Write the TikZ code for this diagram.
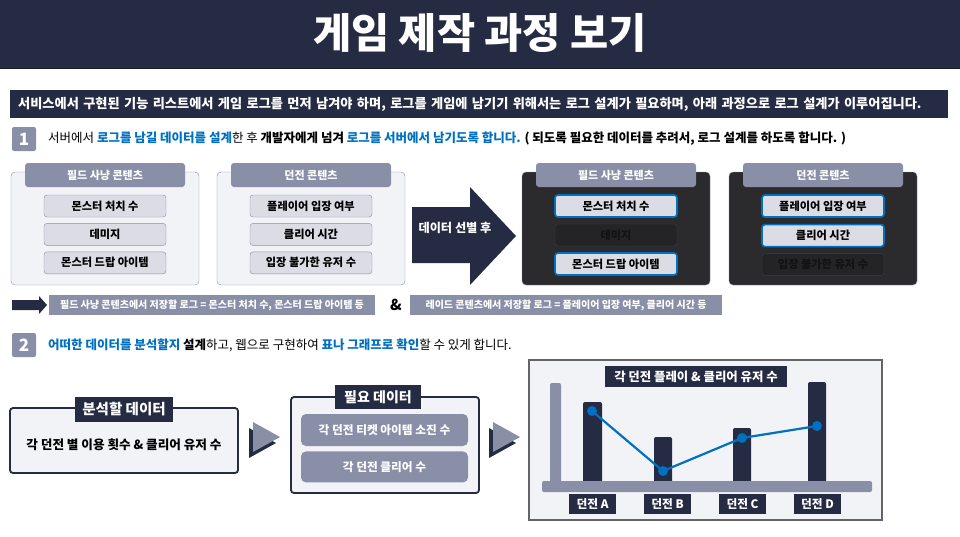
\documentclass[tikz,border=0pt]{standalone}
\usepackage{fontspec}
\setmainfont{Noto Sans CJK KR}
\usetikzlibrary{positioning}
\definecolor{cNavy}{RGB}{37,43,66}
\definecolor{cNavyEdge}{RGB}{24,28,44}
\definecolor{cSlate}{RGB}{138,143,168}
\definecolor{cPale}{RGB}{242,243,247}
\definecolor{cItem}{RGB}{220,221,228}
\definecolor{cDark}{RGB}{43,43,46}
\definecolor{cDrop}{RGB}{36,36,38}
\definecolor{cDropLine}{RGB}{62,62,66}
\definecolor{cDropTxt}{RGB}{18,18,20}
\definecolor{cBlue}{RGB}{0,112,192}
\definecolor{cFrame}{RGB}{100,100,104}
\newcommand\fsz[1]{\fontsize{#1}{#1}\selectfont}

\begin{document}
\begin{tikzpicture}[x=1pt,y=-1pt,node distance=6pt,
   panel/.style={draw=cSlate,fill=cPale,rounded corners=4pt,minimum width=188pt,minimum height=113pt},
   tab/.style={fill=cSlate,text=white,rounded corners=3pt,minimum width=160pt,minimum height=24pt,font=\bfseries\fsz{11}},
   item/.style={draw=cSlate,fill=cItem,rounded corners=3pt,minimum width=122pt,minimum height=22pt,inner sep=0pt,font=\bfseries\fsz{11.2}},
   pick/.style={item,draw=cBlue,line width=1.6pt},
   drop/.style={item,draw=cDropLine,fill=cDrop,text=cDropTxt},
   badge/.style={fill=cSlate,text=white,rounded corners=2pt,minimum size=24pt,inner sep=0pt,font=\bfseries\fsz{17}},
   note/.style={fill=cSlate,text=white,minimum height=20pt,font=\bfseries\fsz{10}},
   navtab/.style={fill=cNavy,text=white,inner sep=0pt,font=\bfseries\fsz{14.5}},
   need/.style={fill=cSlate,text=white,rounded corners=5pt,minimum width=167pt,inner sep=0pt,font=\bfseries\fsz{11.7}},
   lbl/.style={fill=cNavy,text=white,minimum width=47pt,minimum height=20pt,inner sep=0pt,font=\bfseries\fsz{11.7}},
   dot/.style={circle,fill=cBlue,minimum size=10pt,inner sep=0pt}]
  \useasboundingbox (0,0) rectangle (960,536);
  % title
  \fill[cNavy] (0,0) rectangle (960,68);
  \draw[cNavyEdge,line width=1pt] (0,68) -- (960,68);
  \node[text=white,font=\bfseries\fsz{41.5}] (title) at (480,33) {게임 제작 과정 보기};
  \node[fill=cNavy,text=white,anchor=west,text width=922pt,inner xsep=8pt,minimum height=28pt,font=\bfseries\fsz{13.2}] (intro) at (10,104)
    {서비스에서 구현된 기능 리스트에서 게임 로그를 먼저 남겨야 하며, 로그를 게임에 남기기 위해서는 로그 설계가 필요하며, 아래 과정으로 로그 설계가 이루어집니다.};

  % step 1
  \node[badge] (b1) at (24,139) {1};
  \node[anchor=west,inner sep=0pt,font=\fsz{12.5}] (s1) at (48,139)
    {서버에서 \textcolor{cBlue}{\bfseries 로그를 남길 데이터를 설계}한 후 \textbf{개발자에게 넘겨} \textcolor{cBlue}{\bfseries 로그를 서버에서 남기도록 합니다.} \textbf{( 되도록 필요한 데이터를 추려서, 로그 설계를 하도록 합니다. )}};

  \node[panel] (p1) at (105,228.5) {};
  \node[tab] (t1) at (105,175) {필드 사냥 콘텐츠};
  \node[item] (f1) at (105,206) {몬스터 처치 수};
  \node[item,below=of f1] (f2) {데미지};
  \node[item,below=of f2] (f3) {몬스터 드랍 아이템};

  \node[panel] (p2) at (311,228.5) {};
  \node[tab] (t2) at (311,175) {던전 콘텐츠};
  \node[item] (d1) at (311,206) {플레이어 입장 여부};
  \node[item,below=of d1] (d2) {클리어 시간};
  \node[item,below=of d2] (d3) {입장 불가한 유저 수};

  \fill[cNavy] (412,207) -- (470,207) -- (470,187) -- (516,236) -- (470,285) -- (470,263) -- (412,263) -- cycle;
  \node[text=white,font=\bfseries\fsz{12.2}] (pick) at (455,228) {데이터 선별 후};

  \node[panel,fill=cDark] (p3) at (616,228.5) {};
  \node[tab] (t3) at (616,175) {필드 사냥 콘텐츠};
  \node[pick] (g1) at (616,206) {몬스터 처치 수};
  \node[drop,below=of g1] (g2) {데미지};
  \node[pick,below=of g2] (g3) {몬스터 드랍 아이템};

  \node[panel,fill=cDark] (p4) at (823,228.5) {};
  \node[tab] (t4) at (823,175) {던전 콘텐츠};
  \node[pick] (h1) at (823,206) {플레이어 입장 여부};
  \node[pick,below=of h1] (h2) {클리어 시간};
  \node[drop,below=of h2] (h3) {입장 불가한 유저 수};

  % summary row
  \fill[cNavy] (12,300) -- (39,300) -- (39,296) -- (47,305) -- (39,314) -- (39,310) -- (12,310) -- cycle;
  \node[note,minimum width=326pt] (n1) at (212,305) {필드 사냥 콘텐츠에서 저장할 로그 = 몬스터 처치 수, 몬스터 드랍 아이템 등};
  \node[font=\bfseries\fsz{15}] (amp) at (396,305) {\&};
  \node[note,minimum width=312pt] (n2) at (566,305) {레이드 콘텐츠에서 저장할 로그 = 플레이어 입장 여부, 클리어 시간 등};

  % step 2
  \node[badge] (b2) at (24,345) {2};
  \node[anchor=west,inner sep=0pt,font=\fsz{12.5}] (s2) at (48,345)
    {\textcolor{cBlue}{\bfseries 어떠한 데이터를 분석할지} \textbf{설계}하고, 웹으로 구현하여 \textcolor{cBlue}{\bfseries 표나 그래프로 확인}할 수 있게 합니다.};

  \node[draw=cNavy,line width=1.8pt,fill=cPale,rounded corners=3pt,minimum width=228pt,minimum height=65pt] (ana) at (124,440.5) {};
  \node[navtab,minimum width=98pt,minimum height=25pt] (anat) at (124,409.5) {분석할 데이터};
  \node[font=\bfseries\fsz{12.6}] (anatx) at (124,445) {각 던전 별 이용 횟수 \& 클리어 유저 수};

  \fill[cNavy] (249,428) -- (276,443) -- (249,458) -- cycle;
  \fill[cSlate] (253,422) -- (280,437) -- (253,452) -- cycle;

  \node[draw=cNavy,line width=1.8pt,fill=cPale,rounded corners=3pt,minimum width=188pt,minimum height=96pt] (req) at (385,445) {};
  \node[navtab,minimum width=86pt,minimum height=24pt,font=\bfseries\fsz{14}] (reqt) at (378,397) {필요 데이터};
  \node[need,minimum height=32pt] (q1) at (384.5,430) {각 던전 티켓 아이템 소진 수};
  \node[need,minimum height=31pt,below=5pt of q1] (q2) {각 던전 클리어 수};

  \fill[cNavy] (489,428) -- (516,443) -- (489,458) -- cycle;
  \fill[cSlate] (493,422) -- (520,437) -- (493,452) -- cycle;

  % chart
  \node[draw=cFrame,line width=1.5pt,fill=cPale,minimum width=353pt,minimum height=160pt] (chart) at (705.5,440) {};
  \node[fill=cNavy,text=white,minimum width=182pt,minimum height=21pt,inner sep=0pt,font=\bfseries\fsz{12.4}] (ctitle) at (696,376.5) {각 던전 플레이 \& 클리어 유저 수};
  \fill[cSlate,rounded corners=2pt] (550,383) rectangle (561,484);
  \fill[cNavy,rounded corners=2pt] (583,402) rectangle (602,484);
  \fill[cNavy,rounded corners=2pt] (654,437) rectangle (672,484);
  \fill[cNavy,rounded corners=2pt] (733,428) rectangle (751,484);
  \fill[cNavy,rounded corners=2pt] (808,382) rectangle (826,484);
  \fill[cSlate,rounded corners=2pt] (542,481) rectangle (872,492);
  \node[lbl] (la) at (592.5,504) {던전 A};
  \node[lbl] (lb) at (667.5,504) {던전 B};
  \node[lbl] (lc) at (742.5,504) {던전 C};
  \node[lbl] (ld) at (817.5,504) {던전 D};
  \node[dot] (va) at (592,411) {};
  \node[dot] (vb) at (663,471) {};
  \node[dot] (vc) at (742,438) {};
  \node[dot] (vd) at (817,426) {};
  \draw[cBlue,line width=2.2pt] (va.center) -- (vb.center) -- (vc.center) -- (vd.center);
\end{tikzpicture}
\end{document}
